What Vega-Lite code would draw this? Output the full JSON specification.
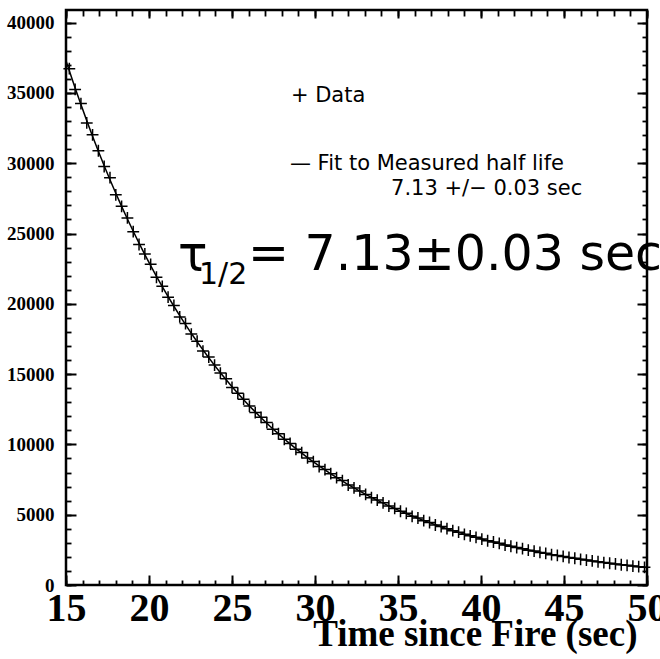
{
  "$schema": "https://vega.github.io/schema/vega-lite/v6.json",
  "width": 581,
  "height": 575,
  "autosize": {"type": "none"},
  "padding": {"left": 66, "top": 10, "right": 13, "bottom": 74},
  "background": "white",
  "config": {
    "view": {"stroke": "black", "strokeWidth": 2.5},
    "axis": {"domain": false, "grid": false, "tickColor": "black", "tickWidth": 1.8, "labelColor": "black", "titleColor": "black"}
  },
  "data": {"values": [
    {"t": 15, "f": 37300},
    {"t": 15.2, "n": 36728, "f": 36582},
    {"t": 15.55, "n": 35252, "f": 35358},
    {"t": 15.9, "n": 34243, "f": 34175},
    {"t": 16.25, "n": 32866, "f": 33031},
    {"t": 16.6, "n": 32022, "f": 31926},
    {"t": 16.95, "n": 30889, "f": 30858},
    {"t": 17.3, "n": 29766, "f": 29826},
    {"t": 17.65, "n": 28972, "f": 28828},
    {"t": 18.0, "n": 27753, "f": 27864},
    {"t": 18.35, "n": 26932, "f": 26932},
    {"t": 18.7, "n": 26109, "f": 26031},
    {"t": 19.05, "n": 25135, "f": 25160},
    {"t": 19.4, "n": 24222, "f": 24319},
    {"t": 19.75, "n": 23552, "f": 23505},
    {"t": 20.1, "n": 22810, "f": 22719},
    {"t": 20.45, "n": 21892, "f": 21958},
    {"t": 20.8, "n": 21245, "f": 21224},
    {"t": 21.15, "n": 20473, "f": 20514},
    {"t": 21.5, "n": 19886, "f": 19827},
    {"t": 21.85, "n": 19068, "f": 19164},
    {"t": 22.2, "n": 18597, "f": 18523},
    {"t": 22.55, "n": 17849, "f": 17903},
    {"t": 22.9, "n": 17339, "f": 17304},
    {"t": 23.25, "n": 16641, "f": 16725},
    {"t": 23.6, "n": 16214, "f": 16166},
    {"t": 23.95, "n": 15641, "f": 15625},
    {"t": 24.3, "n": 15072, "f": 15102},
    {"t": 24.65, "n": 14670, "f": 14597},
    {"t": 25.0, "n": 14053, "f": 14109},
    {"t": 25.35, "n": 13637, "f": 13637},
    {"t": 25.7, "n": 13220, "f": 13180},
    {"t": 26.05, "n": 12727, "f": 12740},
    {"t": 26.4, "n": 12265, "f": 12314},
    {"t": 26.75, "n": 11926, "f": 11902},
    {"t": 27.1, "n": 11550, "f": 11504},
    {"t": 27.45, "n": 11086, "f": 11119},
    {"t": 27.8, "n": 10757, "f": 10746},
    {"t": 28.15, "n": 10366, "f": 10387},
    {"t": 28.5, "n": 10069, "f": 10039},
    {"t": 28.85, "n": 9655, "f": 9704},
    {"t": 29.2, "n": 9417, "f": 9379},
    {"t": 29.55, "n": 9038, "f": 9065},
    {"t": 29.9, "n": 8780, "f": 8762},
    {"t": 30.25, "n": 8427, "f": 8469},
    {"t": 30.6, "n": 8211, "f": 8186},
    {"t": 30.95, "n": 7920, "f": 7912},
    {"t": 31.3, "n": 7632, "f": 7647},
    {"t": 31.65, "n": 7429, "f": 7392},
    {"t": 32.0, "n": 7115, "f": 7144},
    {"t": 32.35, "n": 6906, "f": 6906},
    {"t": 32.7, "n": 6695, "f": 6675},
    {"t": 33.05, "n": 6445, "f": 6451},
    {"t": 33.4, "n": 6210, "f": 6235},
    {"t": 33.75, "n": 6038, "f": 6026},
    {"t": 34.1, "n": 5847, "f": 5824},
    {"t": 34.45, "n": 5612, "f": 5629},
    {"t": 34.8, "n": 5446, "f": 5441},
    {"t": 35.15, "n": 5248, "f": 5259},
    {"t": 35.5, "n": 5098, "f": 5083},
    {"t": 35.85, "n": 4887, "f": 4912},
    {"t": 36.2, "n": 4767, "f": 4748},
    {"t": 36.55, "n": 4576, "f": 4590},
    {"t": 36.9, "n": 4445, "f": 4436},
    {"t": 37.25, "n": 4266, "f": 4287},
    {"t": 37.6, "n": 4156, "f": 4144},
    {"t": 37.95, "n": 4009, "f": 4005},
    {"t": 38.3, "n": 3864, "f": 3872},
    {"t": 38.65, "n": 3761, "f": 3742},
    {"t": 39.0, "n": 3603, "f": 3617},
    {"t": 39.35, "n": 3496, "f": 3496},
    {"t": 39.7, "n": 3389, "f": 3379},
    {"t": 40.05, "n": 3264, "f": 3267},
    {"t": 40.4, "n": 3145, "f": 3158},
    {"t": 40.75, "n": 3058, "f": 3052},
    {"t": 41.1, "n": 2962, "f": 2950},
    {"t": 41.45, "n": 2842, "f": 2851},
    {"t": 41.8, "n": 2759, "f": 2756},
    {"t": 42.15, "n": 2659, "f": 2664},
    {"t": 42.5, "n": 2582, "f": 2574},
    {"t": 42.85, "n": 2476, "f": 2488},
    {"t": 43.2, "n": 2415, "f": 2405},
    {"t": 43.55, "n": 2318, "f": 2325},
    {"t": 43.9, "n": 2251, "f": 2247},
    {"t": 44.25, "n": 2160, "f": 2171},
    {"t": 44.6, "n": 2105, "f": 2099},
    {"t": 44.95, "n": 2031, "f": 2029},
    {"t": 45.3, "n": 1957, "f": 1961},
    {"t": 45.65, "n": 1904, "f": 1895},
    {"t": 46.0, "n": 1825, "f": 1832},
    {"t": 46.35, "n": 1770, "f": 1770},
    {"t": 46.7, "n": 1716, "f": 1711},
    {"t": 47.05, "n": 1652, "f": 1654},
    {"t": 47.4, "n": 1592, "f": 1598},
    {"t": 47.75, "n": 1548, "f": 1545},
    {"t": 48.1, "n": 1499, "f": 1493},
    {"t": 48.45, "n": 1440, "f": 1444},
    {"t": 48.8, "n": 1396, "f": 1395},
    {"t": 49.15, "n": 1346, "f": 1349},
    {"t": 49.5, "n": 1307, "f": 1303},
    {"t": 49.85, "n": 1254, "f": 1260},
    {"t": 50, "f": 1242}
  ]},
  "layer": [
    {
      "mark": {"type": "line", "color": "black", "strokeWidth": 1.5},
      "encoding": {
        "x": {"field": "t", "type": "quantitative", "scale": {"domain": [15, 50], "nice": false, "zero": false},
          "axis": {"orient": "bottom", "values": [15, 20, 25, 30, 35, 40, 45, 50], "tickSize": -10, "tickWidth": 2, "format": "d",
            "labelFont": "Liberation Serif", "labelFontWeight": "bold", "labelFontSize": 40, "labelPadding": 45, "labelBaseline": "alphabetic",
            "labelFlush": false, "labelOverlap": false, "labelBound": false,
            "title": "Time since Fire (sec)", "titleFont": "Liberation Serif", "titleFontWeight": "bold", "titleFontSize": 37,
            "titleAlign": "right", "titleAnchor": "end", "titleX": 571, "titleY": 60, "titleBaseline": "alphabetic"}},
        "y": {"field": "f", "type": "quantitative", "scale": {"domain": [0, 40900], "nice": false},
          "axis": {"orient": "left", "values": [0, 5000, 10000, 15000, 20000, 25000, 30000, 35000, 40000], "tickSize": -10, "tickWidth": 2, "format": "d",
            "labelFont": "Liberation Serif", "labelFontWeight": "bold", "labelFontSize": 19, "labelPadding": 22, "labelBaseline": "middle",
            "labelFlush": false, "labelOverlap": false, "labelBound": false, "title": null}}
      }
    },
    {
      "mark": {"type": "point", "shape": "M-1,0L1,0M0,-1L0,1", "size": 140, "filled": false, "stroke": "black", "strokeWidth": 1.5, "opacity": 1},
      "encoding": {
        "x": {"field": "t", "type": "quantitative",
          "axis": {"orient": "bottom", "values": [15,16,17,18,19,20,21,22,23,24,25,26,27,28,29,30,31,32,33,34,35,36,37,38,39,40,41,42,43,44,45,46,47,48,49,50], "tickSize": -5, "labels": false, "title": null}},
        "y": {"field": "n", "type": "quantitative",
          "axis": {"orient": "left", "values": [0,1000,2000,3000,4000,5000,6000,7000,8000,9000,10000,11000,12000,13000,14000,15000,16000,17000,18000,19000,20000,21000,22000,23000,24000,25000,26000,27000,28000,29000,30000,31000,32000,33000,34000,35000,36000,37000,38000,39000,40000], "tickSize": -5, "labels": false, "title": null}}
      }
    },
    {
      "mark": {"type": "point", "opacity": 0},
      "encoding": {
        "x": {"field": "t", "type": "quantitative",
          "axis": {"orient": "top", "values": [15, 20, 25, 30, 35, 40, 45, 50], "tickSize": -8, "tickWidth": 2, "labels": false, "title": null}},
        "y": {"field": "f", "type": "quantitative",
          "axis": {"orient": "right", "values": [0, 5000, 10000, 15000, 20000, 25000, 30000, 35000, 40000], "tickSize": -10, "tickWidth": 2, "labels": false, "title": null}}
      }
    },
    {
      "mark": {"type": "point", "opacity": 0},
      "encoding": {
        "x": {"field": "t", "type": "quantitative",
          "axis": {"orient": "top", "values": [15,16,17,18,19,20,21,22,23,24,25,26,27,28,29,30,31,32,33,34,35,36,37,38,39,40,41,42,43,44,45,46,47,48,49,50], "tickSize": -6, "labels": false, "title": null}},
        "y": {"field": "f", "type": "quantitative",
          "axis": {"orient": "right", "values": [0,1000,2000,3000,4000,5000,6000,7000,8000,9000,10000,11000,12000,13000,14000,15000,16000,17000,18000,19000,20000,21000,22000,23000,24000,25000,26000,27000,28000,29000,30000,31000,32000,33000,34000,35000,36000,37000,38000,39000,40000], "tickSize": -5, "labels": false, "title": null}}
      }
    },
    {
      "data": {"values": [{}]},
      "mark": {"type": "text", "text": "+ Data", "font": "DejaVu Sans", "fontSize": 21, "align": "left", "baseline": "alphabetic", "color": "black"},
      "encoding": {
        "x": {"datum": 28.55, "type": "quantitative", "axis": null},
        "y": {"datum": 34356, "type": "quantitative", "axis": null}
      }
    },
    {
      "data": {"values": [{}]},
      "mark": {"type": "text", "text": "— Fit to Measured half life", "font": "DejaVu Sans", "fontSize": 21, "align": "left", "baseline": "alphabetic", "color": "black"},
      "encoding": {
        "x": {"datum": 28.49, "type": "quantitative", "axis": null},
        "y": {"datum": 29519, "type": "quantitative", "axis": null}
      }
    },
    {
      "data": {"values": [{}]},
      "mark": {"type": "text", "text": "7.13 +/− 0.03 sec", "font": "DejaVu Sans", "fontSize": 21, "align": "left", "baseline": "alphabetic", "color": "black"},
      "encoding": {
        "x": {"datum": 34.58, "type": "quantitative", "axis": null},
        "y": {"datum": 27741, "type": "quantitative", "axis": null}
      }
    },
    {
      "data": {"values": [{}]},
      "mark": {"type": "text", "text": "τ", "font": "DejaVu Sans", "fontSize": 49, "align": "left", "baseline": "alphabetic", "color": "black"},
      "encoding": {
        "x": {"datum": 21.75, "type": "quantitative", "axis": null},
        "y": {"datum": 22335, "type": "quantitative", "axis": null}
      }
    },
    {
      "data": {"values": [{}]},
      "mark": {"type": "text", "text": "1/2", "font": "DejaVu Sans", "fontSize": 30, "align": "left", "baseline": "alphabetic", "color": "black"},
      "encoding": {
        "x": {"datum": 23.01, "type": "quantitative", "axis": null},
        "y": {"datum": 21410, "type": "quantitative", "axis": null}
      }
    },
    {
      "data": {"values": [{}]},
      "mark": {"type": "text", "text": "= 7.13±0.03 sec", "font": "DejaVu Sans", "fontSize": 49, "align": "left", "baseline": "alphabetic", "color": "black"},
      "encoding": {
        "x": {"datum": 25.96, "type": "quantitative", "axis": null},
        "y": {"datum": 22406, "type": "quantitative", "axis": null}
      }
    }
  ],
  "resolve": {"axis": {"x": "independent", "y": "independent"}}
}
